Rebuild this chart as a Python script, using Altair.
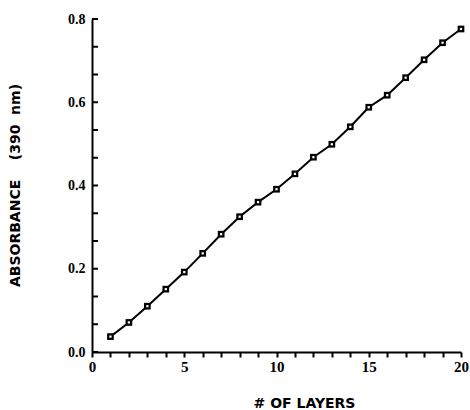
import altair as alt
import pandas as pd

layers = list(range(1, 21))
absorbance = [0.037, 0.071, 0.110, 0.151, 0.192, 0.237, 0.283, 0.325, 0.360, 0.391,
              0.428, 0.468, 0.499, 0.541, 0.588, 0.617, 0.659, 0.702, 0.743, 0.776]
x_ticks = list(range(0, 21))
y_ticks = [round(i * 0.2 / 3, 5) for i in range(13)]
y_labels = [0.0, 0.2, 0.4, 0.6, 0.8]

df = pd.DataFrame({"n": layers, "a": absorbance})
df_ticks = pd.DataFrame({"a": y_ticks})

W, H = 369, 333
NB = "\u00a0"

xscale = alt.Scale(domain=[0, 20], nice=False, zero=False)
yscale = alt.Scale(domain=[0, 0.8], nice=False)

x_axis = alt.Axis(
    values=x_ticks,
    labelExpr="datum.value % 5 == 0 ? datum.label : ''",
    labelOverlap=False,
    grid=False, tickSize=5, tickWidth=2, tickColor="#000000", ticks=True, tickOpacity=1,
    domainColor="black", domainWidth=2,
    labelFont="Liberation Serif", labelFontWeight="bold", labelFontSize=15,
    labelColor="black", labelPadding=2, labelFlush=False,
    title="#" + NB + "OF" + NB + "LAYERS", titleFont="DejaVu Sans", titleFontWeight="bold",
    titleFontSize=14, titleColor="black", titleX=212, titleY=55,
    titleBaseline="alphabetic",
)

y_axis = alt.Axis(
    values=y_labels, format=".1f",
    labelOverlap=False,
    grid=False, ticks=False,
    domainColor="black", domainWidth=2,
    labelFont="Liberation Serif", labelFontWeight="bold", labelFontSize=14,
    labelColor="black", labelPadding=7,
    title="ABSORBANCE" + NB * 4 + "(390" + NB * 2 + "nm)",
    titleFont="DejaVu Sans", titleFontWeight="bold",
    titleFontSize=14, titleColor="black", titleX=-77, titleY=166,
    titleBaseline="middle", titleAngle=270,
)

X = alt.X("n:Q", scale=xscale, axis=x_axis)
Y = alt.Y("a:Q", scale=yscale, axis=y_axis)

base = alt.Chart(df).encode(x=X, y=Y)

line = base.mark_line(color="black", strokeWidth=2)
pts = base.mark_point(shape="square", filled=True, color="black", size=45, opacity=1)
dots = base.mark_point(shape="square", filled=True, color="white", size=5, opacity=1)

inticks = alt.Chart(df_ticks).mark_rule(
    color="black", strokeWidth=2, opacity=1
).encode(
    x=alt.value(0),
    x2=alt.value(6),
    y=Y,
)

chart = (
    alt.layer(line, inticks, pts, dots)
    .properties(
        width=W, height=H,
        autosize=alt.AutoSizeParams(type="none"),
        padding={"left": 92, "top": 19, "right": 9, "bottom": 58},
        background="white",
    )
    .configure_view(stroke=None)
    .configure_axis(labelOverlap=False)
)

chart.save("out.html", embed_options={"renderer": "svg", "actions": False})
